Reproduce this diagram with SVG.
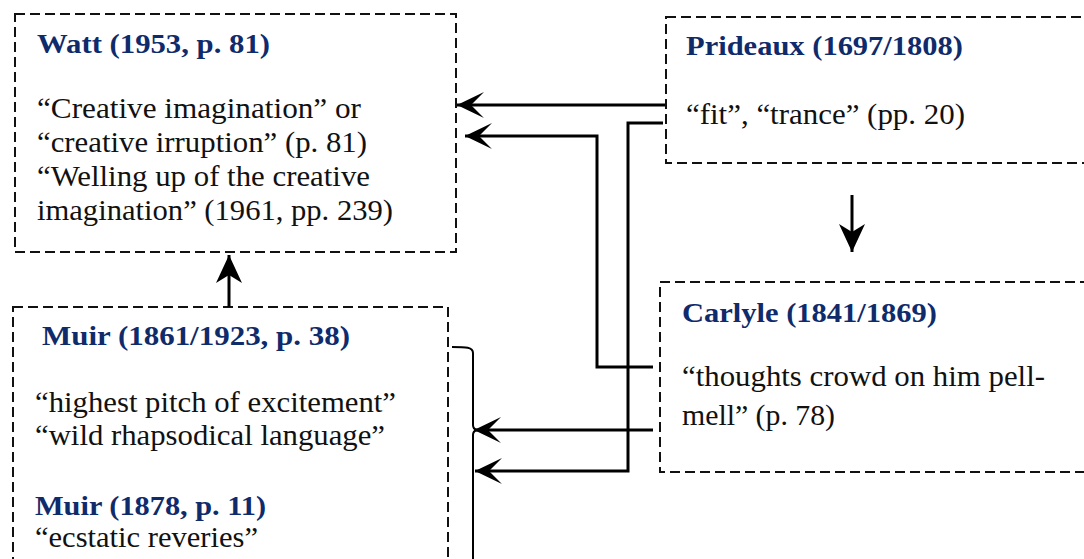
<svg xmlns="http://www.w3.org/2000/svg" width="1084" height="559" viewBox="0 0 1084 559">
<style>
.box{fill:none;stroke:#111;stroke-width:2;stroke-dasharray:10 5}
.t{font-family:"Liberation Serif","Times New Roman",serif;font-size:29px;fill:#111}
.h{font-family:"Liberation Serif","Times New Roman",serif;font-size:28px;font-weight:bold;fill:#0f2b6b}
.c{fill:none;stroke:#000;stroke-width:3}
.br{fill:none;stroke:#000;stroke-width:2}
</style>
<defs>
<marker id="al" viewBox="-29 -15 30 30" refX="0" refY="0" markerWidth="30" markerHeight="30" markerUnits="userSpaceOnUse" orient="auto">
<path d="M0,0 L-27,-13 L-14,0 L-27,13 Z" fill="#000"/>
</marker>
<marker id="av" viewBox="-30 -15 31 30" refX="0" refY="0" markerWidth="31" markerHeight="30" markerUnits="userSpaceOnUse" orient="auto">
<path d="M0,0 L-28,-13 L-20,0 L-28,13 Z" fill="#000"/>
</marker>
</defs>
<g id="watt">
<rect class="box" x="15" y="14" width="441" height="238"/>
<text class="h" x="37" y="53" textLength="233" lengthAdjust="spacingAndGlyphs">Watt (1953, p. 81)</text>
<text class="t" x="37" y="118" textLength="324" lengthAdjust="spacingAndGlyphs">“Creative imagination” or</text>
<text class="t" x="37" y="152" textLength="330" lengthAdjust="spacingAndGlyphs">“creative irruption” (p. 81)</text>
<text class="t" x="37" y="186" textLength="333" lengthAdjust="spacingAndGlyphs">“Welling up of the creative</text>
<text class="t" x="37" y="220" textLength="356" lengthAdjust="spacingAndGlyphs">imagination” (1961, pp. 239)</text>
</g>
<g id="prideaux">
<rect class="box" x="666" y="17" width="440" height="146"/>
<text class="h" x="686" y="55" textLength="277" lengthAdjust="spacingAndGlyphs">Prideaux (1697/1808)</text>
<text class="t" x="686" y="124" textLength="279" lengthAdjust="spacingAndGlyphs">“fit”, “trance” (pp. 20)</text>
</g>
<g id="carlyle">
<rect class="box" x="660" y="282" width="440" height="190"/>
<text class="h" x="682" y="322" textLength="255" lengthAdjust="spacingAndGlyphs">Carlyle (1841/1869)</text>
<text class="t" x="682" y="386" textLength="363" lengthAdjust="spacingAndGlyphs">“thoughts crowd on him pell-</text>
<text class="t" x="682" y="425" textLength="153" lengthAdjust="spacingAndGlyphs">mell” (p. 78)</text>
</g>
<g id="muir">
<rect class="box" x="13" y="307" width="435" height="280"/>
<text class="h" x="42" y="345" textLength="308" lengthAdjust="spacingAndGlyphs">Muir (1861/1923, p. 38)</text>
<text class="t" x="35" y="412" textLength="361" lengthAdjust="spacingAndGlyphs">“highest pitch of excitement”</text>
<text class="t" x="35" y="445" textLength="350" lengthAdjust="spacingAndGlyphs">“wild rhapsodical language”</text>
<text class="h" x="35" y="515" textLength="231" lengthAdjust="spacingAndGlyphs">Muir (1878, p. 11)</text>
<text class="t" x="35" y="547" textLength="223" lengthAdjust="spacingAndGlyphs">“ecstatic reveries”</text>
</g>
<g id="connectors">
<path class="c" d="M665,105 L457,105" marker-end="url(#al)"/>
<path class="c" d="M653,367 L597,367 L597,136 L465,136" marker-end="url(#al)"/>
<path class="c" d="M663,123 L628,123 L628,471 L475,471" marker-end="url(#al)"/>
<path class="c" d="M653,430 L474,430" marker-end="url(#al)"/>
<path class="c" d="M852,195 L852,252" marker-end="url(#av)"/>
<path class="c" d="M229,307 L229,255" marker-end="url(#av)"/>
<path class="br" d="M452,347 C466,347 473,347 473,353 L473,425 Q473,429 477,430 Q473,431 473,435 L473,565"/>
</g>
</svg>
